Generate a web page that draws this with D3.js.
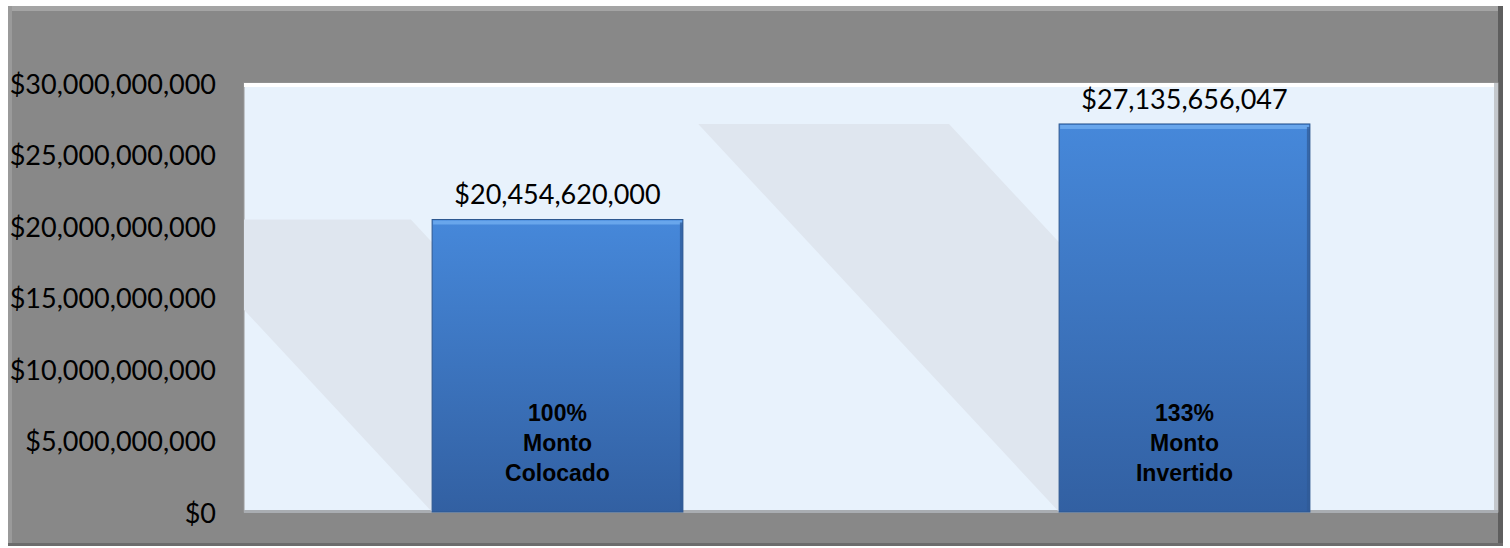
<!DOCTYPE html>
<html>
<head>
<meta charset="utf-8">
<script src="https://cdn.jsdelivr.net/npm/d3@7"></script>
<style>
  html, body { margin: 0; padding: 0; background: #fff; }
  svg { display: block; }
</style>
</head>
<body>
<svg id="chart"></svg>
<script>
// data
var categories = ["Monto Colocado", "Monto Invertido"];
var percents = ["100%", "133%"];
var values = [20454620000, 27135656047];
var yTicks = [0, 5e9, 10e9, 15e9, 20e9, 25e9, 30e9];

var width = 1510, height = 548;
var frame = {x: 8, y: 6, w: 1495, h: 540};
var plot = {x: 244, y: 83, w: 1254, h: 429};

var svg = d3.select("#chart")
    .attr("width", width)
    .attr("height", height);

var defs = svg.append("defs");

// bar gradient, lighter at the top
var grad = defs.append("linearGradient")
    .attr("id", "barGrad")
    .attr("x1", 0).attr("y1", 0).attr("x2", 0).attr("y2", 1);
grad.append("stop").attr("offset", "0%").attr("stop-color", "#4688da");
grad.append("stop").attr("offset", "100%").attr("stop-color", "#3260a2");

defs.append("clipPath").attr("id", "plotClip")
  .append("rect")
    .attr("x", plot.x).attr("y", plot.y)
    .attr("width", plot.w).attr("height", plot.h);

// outer grey frame with bevel
svg.append("rect")
    .attr("x", frame.x).attr("y", frame.y)
    .attr("width", frame.w).attr("height", frame.h)
    .attr("fill", "#888888");
svg.append("rect")
    .attr("x", frame.x).attr("y", frame.y)
    .attr("width", frame.w).attr("height", 5)
    .attr("fill", "#a4a4a4");
svg.append("rect")
    .attr("x", frame.x).attr("y", frame.y)
    .attr("width", 4).attr("height", frame.h)
    .attr("fill", "#9a9a9a");
svg.append("rect")
    .attr("x", frame.x + frame.w - 5).attr("y", frame.y)
    .attr("width", 5).attr("height", frame.h)
    .attr("fill", "#5e5e5e");
svg.append("rect")
    .attr("x", frame.x).attr("y", frame.y + frame.h - 3)
    .attr("width", frame.w).attr("height", 3)
    .attr("fill", "#6c6c6c");

// scales
var x = d3.scaleBand()
    .domain(categories)
    .range([plot.x, plot.x + plot.w])
    .paddingInner(0.6)
    .paddingOuter(0.3);

var y = d3.scaleLinear()
    .domain([0, 30e9])
    .range([plot.y + plot.h, plot.y]);

// plot area
svg.append("rect")
    .attr("x", plot.x).attr("y", plot.y)
    .attr("width", plot.w).attr("height", plot.h)
    .attr("fill", "#e8f2fc")
    .attr("stroke", "#9a9a9a")
    .attr("stroke-width", 1);
svg.append("rect")
    .attr("x", plot.x).attr("y", plot.y)
    .attr("width", plot.w).attr("height", 4)
    .attr("fill", "#ffffff");
svg.append("rect")
    .attr("x", plot.x + plot.w - 4).attr("y", plot.y)
    .attr("width", 4).attr("height", plot.h)
    .attr("fill", "#c4c8cc");
svg.append("rect")
    .attr("x", plot.x).attr("y", plot.y + plot.h - 2)
    .attr("width", plot.w).attr("height", 3)
    .attr("fill", "#a9adb2");

// slanted shadows behind the bars
var k = 0.93;
svg.append("g")
    .attr("clip-path", "url(#plotClip)")
  .selectAll("path")
  .data(values)
  .enter().append("path")
    .attr("fill", "#dfe6ef")
    .attr("d", function(d, i) {
      var x0 = x(categories[i]), w = x.bandwidth();
      var yb = y(0), yt = y(d), off = k * (yb - yt);
      return "M" + x0 + "," + yb +
             "L" + (x0 - off) + "," + yt +
             "L" + (x0 + w - off) + "," + yt +
             "L" + (x0 + w) + "," + yb + "Z";
    });

// y axis labels
var fmt = d3.format("$,.0f");
svg.append("g")
  .selectAll("text")
  .data(yTicks)
  .enter().append("text")
    .attr("x", 216)
    .attr("y", function(d) { return y(d) + 4; })
    .attr("text-anchor", "end")
    .attr("dominant-baseline", "middle")
    .style("font-family", "Lato, 'Open Sans', sans-serif")
    .style("font-size", "27px")
    .style("fill", "#000")
    .text(function(d) { return fmt(d); });

// bars
var bars = svg.append("g");
bars.selectAll("rect.bar")
  .data(values)
  .enter().append("rect")
    .attr("class", "bar")
    .attr("x", function(d, i) { return x(categories[i]); })
    .attr("y", function(d) { return y(d); })
    .attr("width", x.bandwidth())
    .attr("height", function(d) { return y(0) - y(d); })
    .attr("fill", "url(#barGrad)")
    .attr("stroke", "#2d5890")
    .attr("stroke-width", 1);
// top bevel highlight
bars.selectAll("rect.hi")
  .data(values)
  .enter().append("rect")
    .attr("class", "hi")
    .attr("x", function(d, i) { return x(categories[i]) + 1; })
    .attr("y", function(d) { return y(d) + 1; })
    .attr("width", x.bandwidth() - 2)
    .attr("height", 4)
    .attr("fill", "#68a6ec");
// right edge shade
bars.selectAll("rect.sh")
  .data(values)
  .enter().append("rect")
    .attr("class", "sh")
    .attr("x", function(d, i) { return x(categories[i]) + x.bandwidth() - 3; })
    .attr("y", function(d) { return y(d) + 3; })
    .attr("width", 3)
    .attr("height", function(d) { return y(0) - y(d) - 3; })
    .attr("fill", "#2f5a95")
    .attr("opacity", 0.7);

// value labels above bars
svg.append("g")
  .selectAll("text")
  .data(values)
  .enter().append("text")
    .attr("x", function(d, i) { return x(categories[i]) + x.bandwidth() / 2; })
    .attr("y", function(d) { return y(d) - 15; })
    .attr("text-anchor", "middle")
    .style("font-family", "Lato, 'Open Sans', sans-serif")
    .style("font-size", "27px")
    .style("fill", "#000")
    .text(function(d) { return fmt(d); });

// labels inside bars
var inner = svg.append("g")
  .selectAll("text")
  .data(categories)
  .enter().append("text")
    .attr("text-anchor", "middle")
    .style("font-family", "'Liberation Sans', Arial, sans-serif")
    .style("font-weight", "bold")
    .style("font-size", "23px")
    .style("fill", "#000");
inner.each(function(c, i) {
  var lines = [percents[i]].concat(c.split(" "));
  var cx = x(c) + x.bandwidth() / 2;
  d3.select(this).selectAll("tspan")
    .data(lines)
    .enter().append("tspan")
      .attr("x", cx)
      .attr("y", function(l, j) { return y(5e9) - 20 + j * 30; })
      .text(function(l) { return l; });
});
</script>
</body>
</html>
